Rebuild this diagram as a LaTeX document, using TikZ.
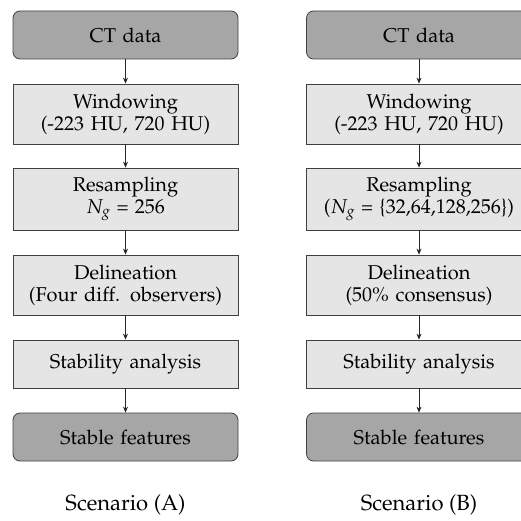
\documentclass[tikz,border=0pt]{standalone}
\usepackage[T1]{fontenc}
\usepackage{mathpazo}
\usetikzlibrary{arrows.meta}
\begin{document}
\begin{tikzpicture}[x=1pt,y=1pt,
  base/.style={draw=black!75, line width=0.8pt, text width=221pt, align=center,
    font=\fontsize{20}{22}\selectfont, inner xsep=2pt, inner ysep=0pt},
  term/.style={base, fill=black!35, rounded corners=7pt, minimum height=48pt},
  proc/.style={base, fill=black!10},
  arr/.style={-{Stealth[length=6pt,width=5pt]}, line width=0.7pt, draw=black!85},
  scen/.style={font=\fontsize{22}{24}\selectfont, anchor=base, inner sep=0pt}]
\useasboundingbox (0,0) rectangle (521,520);
% Scenario A
\node[term] (a1) at (125.5,485) {CT data};
\node[proc, minimum height=60pt] (a2) at (125.5,406) {Windowing\\(-223 HU, 720 HU)};
\node[proc, minimum height=62pt] (a3) at (125.5,321) {Resampling\\$N_g$\hspace{6pt}=\hspace{6pt}256};
\node[proc, minimum height=60pt] (a4) at (125.5,235) {Delineation\\(Four diff. observers)};
\node[proc, minimum height=48pt] (a5) at (125.5,156) {Stability analysis};
\node[term] (a6) at (125.5,83) {Stable features};
\node[scen] (ca) at (125.5,10) {Scenario (A)};
\foreach \i/\j in {a1/a2,a2/a3,a3/a4,a4/a5,a5/a6} \draw[arr] (\i) -- (\j);
% Scenario B
\node[term] (b1) at (419,485) {CT data};
\node[proc, minimum height=60pt] (b2) at (419,406) {Windowing\\(-223 HU, 720 HU)};
\node[proc, minimum height=62pt] (b3) at (419,321) {Resampling\\($N_g$\hspace{6pt}=\hspace{6pt}\{32,64,128,256\})};
\node[proc, minimum height=60pt] (b4) at (419,235) {Delineation\\(50\% consensus)};
\node[proc, minimum height=48pt] (b5) at (419,156) {Stability analysis};
\node[term] (b6) at (419,83) {Stable features};
\node[scen] (cb) at (419,10) {Scenario (B)};
\foreach \i/\j in {b1/b2,b2/b3,b3/b4,b4/b5,b5/b6} \draw[arr] (\i) -- (\j);
\end{tikzpicture}
\end{document}
